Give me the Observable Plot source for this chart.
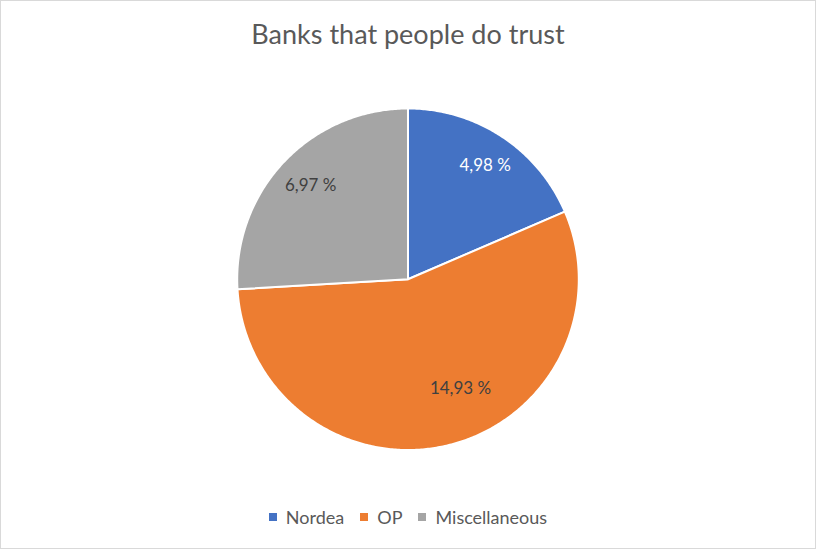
<!DOCTYPE html>
<html><head><meta charset="utf-8">
<script src="https://cdn.jsdelivr.net/npm/d3@7"></script>
<script src="https://cdn.jsdelivr.net/npm/@observablehq/plot@0.6"></script>
<style>
body{margin:0;background:#fff;}
#chart{position:relative;width:816px;height:549px;box-sizing:border-box;border:1px solid #d9d9d9;font-family:Lato,"Open Sans",sans-serif;overflow:hidden;background:#fff}
#title{position:absolute;top:17px;left:0;width:100%;text-align:center;font-size:27px;color:#595959;line-height:32px;}
#plot{position:absolute;left:-1px;top:77px}
#legend{position:absolute;top:504px;left:0;width:100%;display:flex;justify-content:center;font-size:18px;color:#595959;line-height:24px;}
#legend .item{display:flex;align-items:center;margin:0 8px;}
#legend .sw{width:8px;height:8px;margin-right:9px;}
</style></head>
<body>
<div id="chart">
  <div id="title">Banks that people do trust</div>
  <div id="plot"></div>
  <div id="legend"></div>
</div>
<script>
const categories = ["Nordea", "OP", "Miscellaneous"];
const values = [4.98, 14.93, 6.97];
const valueLabels = ["4,98 %", "14,93 %", "6,97 %"];
const colors = ["#4472C4", "#ED7D31", "#A5A5A5"];

const arcs = d3.pie().sort(null)(values);
const rows = [];
arcs.forEach((a, i) => {
  const cat = categories[i];
  rows.push({cat, x: 0, y: 0});
  const n = Math.max(2, Math.ceil((a.endAngle - a.startAngle) / 0.01));
  for (let k = 0; k <= n; k++) {
    const t = a.startAngle + (a.endAngle - a.startAngle) * k / n;
    rows.push({cat, x: Math.sin(t), y: Math.cos(t)});
  }
  rows.push({cat, x: 0, y: 0});
});
const labelRows = arcs.map((a, i) => {
  const m = (a.startAngle + a.endAngle) / 2;
  return {cat: categories[i], text: valueLabels[i], x: 0.8 * Math.sin(m), y: 0.8 * Math.cos(m)};
});

const R = 171, cx = 408, cy = 201;
const chart = Plot.plot({
  width: 816, height: 400,
  margin: 0,
  x: {domain: [-1, 1], range: [cx - R, cx + R], axis: null},
  y: {domain: [-1, 1], range: [cy + R, cy - R], axis: null},
  color: {domain: categories, range: colors},
  style: {background: "transparent", fontFamily: "Lato, sans-serif"},
  marks: [
    Plot.line(rows, {x: "x", y: "y", z: "cat", fill: "cat", stroke: "white", strokeWidth: 2, strokeLinejoin: "round", curve: "linear"}),
    Plot.text(labelRows.filter(d => d.cat === "Nordea"), {x: "x", y: "y", text: "text", fill: "white", fontSize: 17, dx: 2}),
    Plot.text(labelRows.filter(d => d.cat === "Miscellaneous"), {x: "x", y: "y", text: "text", fill: "#404040", fontSize: 17, dx: 2}),
    Plot.text(labelRows.filter(d => d.cat === "OP"), {x: "x", y: "y", text: "text", fill: "#404040", fontSize: 17, dx: 21, dy: -24})
  ]
});
document.getElementById("plot").appendChild(chart);

const legend = document.getElementById("legend");
categories.forEach((c, i) => {
  const it = document.createElement("div");
  it.className = "item";
  const sw = document.createElement("span");
  sw.className = "sw";
  sw.style.background = colors[i];
  const tx = document.createElement("span");
  tx.textContent = c;
  it.appendChild(sw); it.appendChild(tx);
  legend.appendChild(it);
});
</script>
</body></html>
